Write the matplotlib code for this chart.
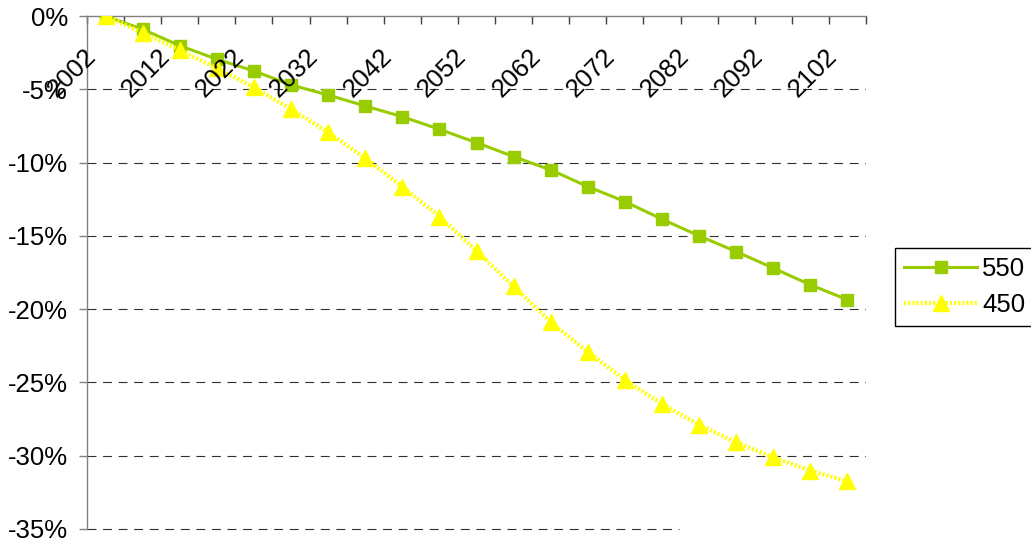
import numpy as np
import matplotlib.pyplot as plt

plt.rcParams['font.family'] = ['Liberation Sans', 'DejaVu Sans']

# Daten
years = list(range(2002, 2103, 5))
s550 = [0, -0.91, -2.02, -2.95, -3.75, -4.70, -5.39, -6.14, -6.87, -7.73, -8.64,
        -9.59, -10.50, -11.64, -12.66, -13.86, -15.0, -16.07, -17.20, -18.34, -19.36]
s450 = [0, -1.14, -2.32, -3.57, -4.86, -6.36, -7.93, -9.70, -11.64, -13.68, -16.02,
        -18.45, -20.88, -22.93, -24.82, -26.47, -27.89, -29.09, -30.11, -31.02, -31.75]
yticks = [0, -5, -10, -15, -20, -25, -30, -35]

W, H = 1031, 544
fs = 18.5
fig = plt.figure(figsize=(W / 100, H / 100), dpi=100)
ax = fig.add_axes([87 / W, 1 - 529 / H, (866 - 87) / W, (529 - 16) / H])

x = np.arange(len(years))
ax.plot(x, s550, color='#99CC00', lw=2.2, marker='s', ms=8.6,
        mfc='#99CC00', mec='#99CC00', label='550', zorder=3)
ax.plot(x, s450, color='#FFFF00', lw=3, linestyle=(0, (0.5, 0.5)), marker='^',
        ms=12, mfc='#FFFF00', mec='#FFFF00', label='450', zorder=4)

ax.set_xlim(-0.5, len(years) - 0.5)
ax.set_ylim(-35, 0)

# Gitterlinien
for v in yticks[1:-1]:
    ax.axhline(v, color='#303030', lw=0.8, linestyle=(0, (8, 6)), zorder=1)
ax.axhline(-35, xmax=0.76, color='#303030', lw=0.8, linestyle=(0, (8, 6)),
           zorder=1, clip_on=False)

for s in ['right', 'bottom']:
    ax.spines[s].set_visible(False)
for s in ['left', 'top']:
    ax.spines[s].set_color('#808080')
    ax.spines[s].set_linewidth(1)

ax.set_yticks(yticks)
ax.set_yticklabels([f'{v}%' for v in yticks], fontsize=fs)
ax.tick_params(axis='y', direction='out', length=5.8, width=1, color='#808080', pad=8)

ax.xaxis.tick_top()
ax.set_xticks(np.arange(-0.5, len(years), 1))
ax.set_xticklabels([])
ax.tick_params(axis='x', direction='in', length=5.8, width=1, color='#404040')

for i, yr in enumerate(years):
    if i % 2 == 0:
        ax.annotate(str(yr), xy=(i, 1), xycoords=ax.get_xaxis_transform(),
                    xytext=(-34, -57), textcoords='offset pixels',
                    rotation=45, ha='center', va='center', fontsize=fs, zorder=6)

leg = ax.legend(loc='upper left', bbox_to_anchor=(895 / W, 1 - 248 / H),
                bbox_transform=fig.transFigure, fancybox=False, edgecolor='black',
                framealpha=1, fontsize=fs, handlelength=2.85, handletextpad=0.2,
                borderpad=0.35, labelspacing=0.45, borderaxespad=0)
leg.get_frame().set_linewidth(1)

fig.savefig('out.png', dpi=100)
